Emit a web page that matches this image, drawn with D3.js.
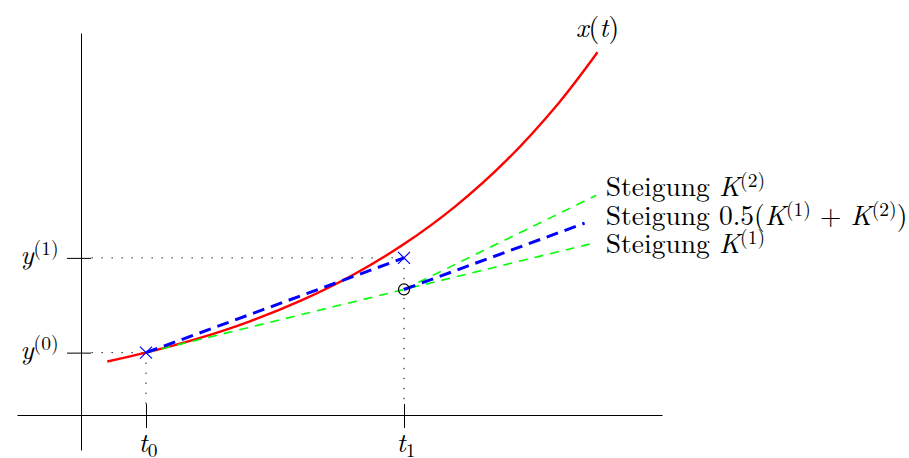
<!DOCTYPE html>
<html>
<head>
<meta charset="utf-8">
<script src="https://cdn.jsdelivr.net/npm/d3@7"></script>
<style>
  body { margin: 0; background: #fff; }
</style>
</head>
<body>
<svg width="909" height="458"></svg>
<script>
// axis extents (data units: t along x, value along y)
const tAxis = [-0.5, 2.0];
const vAxis = [-0.36, 4.03];
const yAxisAtT = -0.25;

// ticks
const tTicks = [0, 1];
const tTickLabels = ['0', '1'];
const yTicks = [0.665, 1.6625];
const yTickLabels = ['(0)', '(1)'];

// exact solution x(t)
const curveT = [-0.15, 0, 0.2, 0.4, 0.6, 0.8, 1.0, 1.2, 1.4, 1.6, 1.75];
const curveV = [0.572, 0.665, 0.812, 0.992, 1.212, 1.48, 1.808, 2.208, 2.697, 3.294, 3.827];

// slope lines of the Heun step
const slopeK1 = [[0, 0.665], [1.74, 1.822]];
const slopeK2 = [[1, 1.33], [1.745, 2.321]];
const slopeAvg = [
  [[0, 0.665], [1, 1.6625]],
  [[1, 1.33], [1.70, 2.028]]
];

// markers
const crossPoints = [[0, 0.665], [1, 1.6625]];
const circlePoint = [1, 1.33];

// slope labels
const slopeLabels = [
  [{ t: 'Steigung ' }, { t: 'K', it: true }, { t: '(2)', sup: true }],
  [{ t: 'Steigung 0.5(' }, { t: 'K', it: true }, { t: '(1)', sup: true }, { t: ' + ' },
   { t: 'K', it: true }, { t: '(2)', sup: true }, { t: ')' }],
  [{ t: 'Steigung ' }, { t: 'K', it: true }, { t: '(1)', sup: true }]
];

var svg = d3.select('svg');
var x = d3.scaleLinear().domain(tAxis).range([17, 662]);
var y = d3.scaleLinear().domain(vAxis).range([450, 33]);
var fs = 27.5;
var fsSmall = 19.5;
var font = "'Latin Modern Roman', 'Liberation Serif', serif";

function addParts(text, parts) {
  var shift = 0;
  text.style('font-family', font).style('white-space', 'pre');
  parts.forEach(function (p) {
    var target = p.sup ? -9 : p.sub ? 5 : 0;
    text.append('tspan')
      .attr('dy', target - shift)
      .style('font-size', (p.sup || p.sub ? fsSmall : fs) + 'px')
      .style('font-style', p.it ? 'italic' : 'normal')
      .text(p.t);
    shift = target;
  });
}

// axes
var xAxisG = svg.append('g')
  .attr('transform', 'translate(0,' + Math.floor(y(0)) + ')')
  .call(d3.axisBottom(x).tickValues(tTicks).tickSize(13).tickSizeOuter(0).tickFormat(''));
xAxisG.selectAll('.tick line').attr('y1', -11);

var yAxisG = svg.append('g')
  .attr('transform', 'translate(' + Math.floor(x(yAxisAtT)) + ',0)')
  .call(d3.axisLeft(y).tickValues(yTicks).tickSize(14).tickSizeOuter(0).tickFormat(''));
yAxisG.selectAll('.tick line').attr('x1', 10);

// dotted guides
var guides = svg.append('g')
  .attr('fill', 'none')
  .attr('stroke', '#000')
  .attr('stroke-width', 1)
  .attr('stroke-dasharray', '1.3,8.7');
yTicks.forEach(function (v, i) {
  guides.append('line')
    .attr('x1', x(yAxisAtT) + 10).attr('x2', x(tTicks[i]))
    .attr('y1', y(v)).attr('y2', y(v));
  guides.append('line')
    .attr('x1', x(tTicks[i])).attr('x2', x(tTicks[i]))
    .attr('y1', y(v)).attr('y2', y(0) - 11);
});

// red curve
var line = d3.line()
  .x(function (d) { return x(d[0]); })
  .y(function (d) { return y(d[1]); })
  .curve(d3.curveCatmullRom);

svg.append('path')
  .datum(d3.zip(curveT, curveV))
  .attr('d', line)
  .attr('fill', 'none')
  .attr('stroke', '#ff0000')
  .attr('stroke-width', 2.4);

var straight = d3.line().x(function (d) { return x(d[0]); }).y(function (d) { return y(d[1]); });

// green slope lines
svg.append('g').selectAll('path')
  .data([slopeK1, slopeK2])
  .join('path')
  .attr('d', straight)
  .attr('fill', 'none')
  .attr('stroke', '#00ff00')
  .attr('stroke-width', 1.6)
  .attr('stroke-dasharray', '9,7');

// blue averaged slope
svg.append('g').selectAll('path')
  .data(slopeAvg)
  .join('path')
  .attr('d', straight)
  .attr('fill', 'none')
  .attr('stroke', '#0000ff')
  .attr('stroke-width', 3)
  .attr('stroke-dasharray', '12,7');

// markers
svg.append('g').selectAll('path')
  .data(crossPoints)
  .join('path')
  .attr('d', function (d) {
    var cx = x(d[0]), cy = y(d[1]), s = 6;
    return 'M' + (cx - s) + ',' + (cy - s) + 'L' + (cx + s) + ',' + (cy + s) +
      'M' + (cx - s) + ',' + (cy + s) + 'L' + (cx + s) + ',' + (cy - s);
  })
  .attr('stroke', '#0000ff')
  .attr('stroke-width', 1.2);

svg.append('circle')
  .attr('cx', x(circlePoint[0]))
  .attr('cy', y(circlePoint[1]))
  .attr('r', 5.5)
  .attr('fill', 'none')
  .attr('stroke', '#000')
  .attr('stroke-width', 1.2);

// labels
svg.selectAll('.tlabel')
  .data(tTicks)
  .join('text')
  .attr('class', 'tlabel')
  .attr('x', function (d) { return x(d) + 2; })
  .attr('y', y(0) + 36)
  .attr('text-anchor', 'middle')
  .each(function (d, i) {
    addParts(d3.select(this), [{ t: 't', it: true }, { t: tTickLabels[i], sub: true }]);
  });

svg.selectAll('.ylabel')
  .data(yTicks)
  .join('text')
  .attr('class', 'ylabel')
  .attr('x', x(yAxisAtT) - 23)
  .attr('y', function (d) { return y(d) + 6; })
  .attr('text-anchor', 'end')
  .each(function (d, i) {
    addParts(d3.select(this), [{ t: 'y', it: true }, { t: yTickLabels[i], sup: true }]);
  });

var xt = svg.append('text')
  .attr('x', x(curveT[curveT.length - 1]))
  .attr('y', y(curveV[curveV.length - 1]) - 15)
  .attr('text-anchor', 'middle');
addParts(xt, [{ t: 'x', it: true }, { t: '(' }, { t: 't', it: true }, { t: ')' }]);

var labelBase = [196, 225, 253];
slopeLabels.forEach(function (parts, i) {
  var t = svg.append('text')
    .attr('x', x(1.79) - 2)
    .attr('y', labelBase[i]);
  addParts(t, parts);
});
</script>
</body>
</html>
